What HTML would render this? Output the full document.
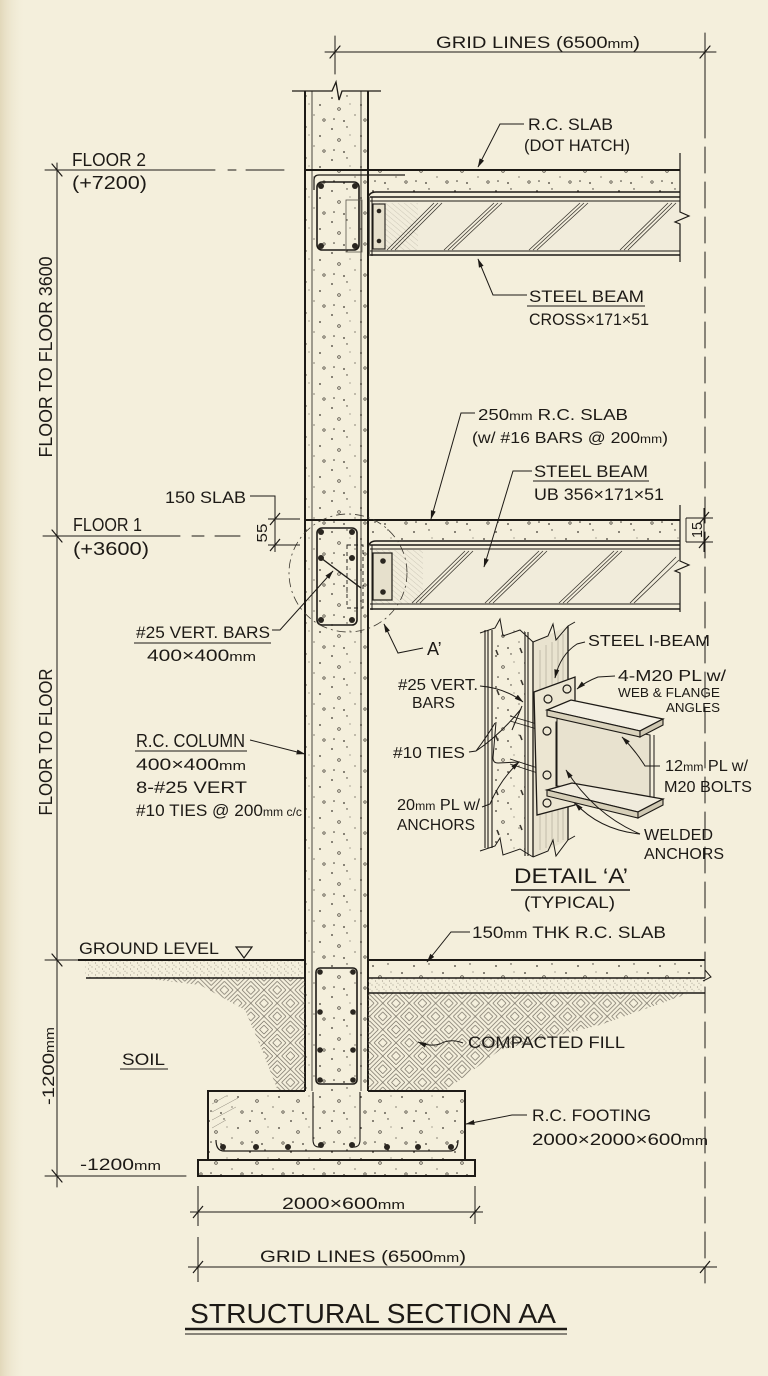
<!DOCTYPE html>
<html><head><meta charset="utf-8">
<style>
html,body{margin:0;padding:0;background:#f4efdc;}
svg{display:block;}
text{font-family:"Liberation Sans",sans-serif;fill:#1d1a16;}
</style></head><body>
<svg width="768" height="1376" viewBox="0 0 768 1376" xmlns="http://www.w3.org/2000/svg">
<defs>
<linearGradient id="bgL" x1="0" x2="1" y1="0" y2="0">
 <stop offset="0" stop-color="#e2d8ba"/>
 <stop offset="1" stop-color="#f4efdc" stop-opacity="0"/>
</linearGradient>
<pattern id="dots" width="41" height="31" patternUnits="userSpaceOnUse">
 <circle cx="4" cy="5" r="0.9" fill="#3a352d"/>
 <circle cx="19" cy="3" r="0.7" fill="#3a352d"/>
 <circle cx="11" cy="16" r="1.3" fill="none" stroke="#3a352d" stroke-width="0.7"/>
 <circle cx="33" cy="12" r="0.9" fill="#3a352d"/>
 <circle cx="27" cy="22" r="0.6" fill="#3a352d"/>
 <circle cx="37" cy="27" r="1.2" fill="none" stroke="#3a352d" stroke-width="0.7"/>
 <circle cx="6" cy="26" r="0.8" fill="#3a352d"/>
 <circle cx="22" cy="11" r="0.5" fill="#3a352d"/>
 <circle cx="16" cy="28" r="0.9" fill="#3a352d"/>
</pattern>
<pattern id="stip" width="7" height="6" patternUnits="userSpaceOnUse">
 <circle cx="1" cy="1" r="0.5" fill="#857f72"/>
 <circle cx="4.5" cy="3" r="0.55" fill="#857f72"/>
 <circle cx="6" cy="5.2" r="0.45" fill="#857f72"/>
</pattern>
<pattern id="herr" width="16" height="16" patternUnits="userSpaceOnUse" patternTransform="scale(1.65)">
 <g stroke="#6f695e" stroke-width="0.4" fill="none">
  <path d="M0,2.7L2.7,0M0,5.3L5.3,0M0,8L8,0M2.7,8L8,2.7M5.3,8L8,5.3"/>
  <path d="M8,5.3L10.7,8M8,2.7L13.3,8M8,0L16,8M10.7,0L16,5.3M13.3,0L16,2.7"/>
  <path d="M0,13.3L2.7,16M0,10.7L5.3,16M0,8L8,16M2.7,8L8,13.3M5.3,8L8,10.7"/>
  <path d="M8,10.7L10.7,8M8,13.3L13.3,8M8,16L16,8M10.7,16L16,10.7M13.3,16L16,13.3"/>
 </g>
</pattern>
<pattern id="fh" width="4" height="4" patternUnits="userSpaceOnUse" patternTransform="rotate(-50)">
 <line x1="0" y1="0" x2="0" y2="4" stroke="#8d877a" stroke-width="0.6"/>
</pattern>
<marker id="arr" markerWidth="9" markerHeight="6" refX="8.5" refY="3" orient="auto" markerUnits="userSpaceOnUse">
 <path d="M0,0.5 L9,3 L0,5.5 Z" fill="#1d1a16"/>
</marker>
</defs>

<rect width="768" height="1376" fill="#f4efdc"/>
<rect width="26" height="1376" fill="url(#bgL)"/>

<g stroke="#1d1a16" fill="none" stroke-linecap="round">
<line x1="325" y1="52" x2="716" y2="52" stroke-width="1"/>
<line x1="335" y1="36" x2="335" y2="74" stroke-width="1"/>
<line x1="705" y1="33" x2="705" y2="112" stroke-width="1"/>
<line x1="705" y1="112" x2="705" y2="1283" stroke-width="1" stroke-dasharray="26 9"/>
<path d="M330,58 L340,46 M700,58 L710,46" stroke-width="1.2"/>

<line x1="57" y1="163" x2="57" y2="1187" stroke-width="1"/>
<path d="M52,164 L62,176 M52,530 L62,542 M52,954 L62,966 M52,1170 L62,1182" stroke-width="1.2"/>
<path d="M45,170 L215,170 M228,170 L236,170 M246,170 L284,170" stroke-width="1"/>
<path d="M43,536 L180,536 M192,536 L204,536 M215,536 L240,536" stroke-width="1"/>
<path d="M45,960 L78,960" stroke-width="1"/>
<path d="M45,1176 L186,1176" stroke-width="1"/>
</g>

<!-- COLUMN -->
<rect x="306" y="92" width="61" height="999" fill="url(#dots)"/>
<g stroke="#1d1a16" fill="none">
<path d="M292,91 L332,91 L336,82 L339,100 L342,91 L381,91" stroke-width="1.3"/>
<line x1="305" y1="91" x2="305" y2="1091" stroke-width="2"/>
<line x1="368" y1="91" x2="368" y2="1091" stroke-width="2"/>
<line x1="312" y1="91" x2="312" y2="1091" stroke-width="0.8"/>
<line x1="361" y1="91" x2="361" y2="1091" stroke-width="0.8"/>
</g>

<!-- FLOOR 2 -->
<rect x="368" y="171" width="312" height="21" fill="url(#dots)"/>
<rect x="373" y="202" width="307" height="49" fill="#f1ecdb"/>
<rect x="373" y="203" width="45" height="47" fill="url(#fh)" opacity="0.6"/>
<g stroke="#1d1a16" fill="none">
<line x1="305" y1="170" x2="680" y2="170" stroke-width="2"/>
<path d="M368,200 Q368,192 376,192 L680,192" stroke-width="1.4"/>
<path d="M314,190 L314,180 Q314,175 319,175 L405,175" stroke-width="1.2"/>
<rect x="317" y="182" width="42" height="68" rx="5" stroke-width="1.6"/>
<rect x="346" y="200" width="16" height="52" stroke-width="0.8" stroke="#5a554c"/>
<line x1="370" y1="197" x2="680" y2="197" stroke-width="1.4"/>
<line x1="370" y1="201" x2="680" y2="201" stroke-width="1"/>
<line x1="370" y1="251" x2="680" y2="251" stroke-width="1"/>
<line x1="370" y1="255" x2="680" y2="255" stroke-width="1.4"/>
<line x1="369" y1="197" x2="369" y2="256" stroke-width="1.2"/>
<line x1="372" y1="197" x2="372" y2="256" stroke-width="1"/>
<rect x="373" y="204" width="12" height="45" stroke-width="1.1" fill="#e6e0cc"/>
<path d="M680,153 L680,212 L689,216 L675,222 L680,224 L680,262" stroke-width="1.2"/>
<g stroke-width="0.8" stroke="#3b372f">
 <path d="M387,250 L434,203 M391,250 L438,203 M395,250 L442,203"/>
 <path d="M444,250 L494,203 M448,250 L498,203 M452,250 L502,203"/>
 <path d="M529,250 L580,203 M533,250 L584,203 M537,250 L588,203"/>
 <path d="M620,250 L668,203 M624,250 L672,203 M628,250 L676,203"/>
</g>
</g>
<g fill="#2a2620">
<circle cx="321" cy="186" r="3"/><circle cx="355" cy="186" r="3"/>
<circle cx="321" cy="246" r="3"/><circle cx="355" cy="246" r="3"/>
<circle cx="379" cy="211" r="2.3"/><circle cx="379" cy="241" r="2.3"/>
</g>

<!-- FLOOR 1 -->
<rect x="368" y="521" width="312" height="20" fill="url(#dots)"/>
<rect x="373" y="550" width="307" height="54" fill="#f1ecdb"/>
<rect x="373" y="550" width="50" height="54" fill="url(#fh)" opacity="0.6"/>
<g stroke="#1d1a16" fill="none">
<line x1="305" y1="520" x2="680" y2="520" stroke-width="2"/>
<path d="M368,550 Q368,541 376,541 L680,541" stroke-width="1.4"/>
<line x1="370" y1="545" x2="680" y2="545" stroke-width="1.4"/>
<line x1="370" y1="549" x2="680" y2="549" stroke-width="1"/>
<line x1="370" y1="604" x2="680" y2="604" stroke-width="1"/>
<line x1="370" y1="609" x2="680" y2="609" stroke-width="1.4"/>
<line x1="368" y1="545" x2="368" y2="610" stroke-width="1.2"/>
<line x1="372" y1="545" x2="372" y2="610" stroke-width="1"/>
<rect x="373" y="553" width="19" height="47" stroke-width="1.2" fill="#e6e0cc"/>
<rect x="317" y="528" width="40" height="97" rx="5" stroke-width="1.6"/>
<line x1="321" y1="558" x2="361" y2="588" stroke-width="1.4"/>
<rect x="347" y="545" width="16" height="63" stroke-width="0.9" stroke-dasharray="4 3"/>
<path d="M680,505 L680,561 L689,565 L675,571 L680,573 L680,612" stroke-width="1.2"/>
<circle cx="348" cy="573" r="59" stroke-width="0.8" stroke-dasharray="9 4 2 4" stroke="#3b372f"/>
<g stroke-width="0.8" stroke="#3b372f">
 <path d="M412,603 L465,551 M416,603 L469,551 M420,603 L473,551"/>
 <path d="M485,603 L539,551 M489,603 L543,551 M493,603 L547,551"/>
 <path d="M559,603 L614,551 M563,603 L618,551 M567,603 L622,551"/>
 <path d="M630,603 L676,557 M634,603 L679,560"/>
</g>
<path d="M250,496 L275,496 L275,519" stroke-width="1"/>
<line x1="275" y1="508" x2="275" y2="552" stroke-width="1"/>
<path d="M268,519 L300,519 M268,545 L300,545" stroke-width="0.9"/>
<path d="M270,525 L280,513 M270,551 L280,539" stroke-width="1.2"/>
<line x1="704" y1="508" x2="704" y2="552" stroke-width="1"/>
<path d="M686,518 L713,518 M686,542 L713,542" stroke-width="0.9"/>
<line x1="686" y1="518" x2="686" y2="542" stroke-width="0.9"/>
<path d="M699,524 L709,512 M699,548 L709,536" stroke-width="1.2"/>
</g>
<g fill="#2a2620">
<circle cx="321" cy="532" r="3"/><circle cx="352" cy="532" r="3"/>
<circle cx="321" cy="558" r="3"/><circle cx="352" cy="558" r="3"/>
<circle cx="321" cy="620" r="3"/><circle cx="352" cy="620" r="3"/>
<circle cx="383" cy="561" r="2.8"/><circle cx="383" cy="592" r="2.8"/>
</g>

<!-- GROUND -->
<polygon points="142,978 200,985 245,1010 262,1050 278,1091 305,1091 305,978" fill="url(#herr)"/>
<polygon points="368,993 690,993 600,1025 500,1050 445,1091 368,1091" fill="url(#herr)"/>
<rect x="85" y="961" width="220" height="17" fill="url(#stip)"/>
<rect x="368" y="961" width="337" height="17" fill="url(#dots)"/>
<rect x="368" y="978" width="337" height="15" fill="url(#stip)"/>
<rect x="209" y="1092" width="255" height="67" fill="url(#dots)"/>
<rect x="199" y="1161" width="275" height="14" fill="url(#dots)"/>
<g stroke="#1d1a16" fill="none">
<line x1="78" y1="960" x2="305" y2="960" stroke-width="2"/>
<line x1="368" y1="960" x2="705" y2="960" stroke-width="2"/>
<line x1="86" y1="978" x2="305" y2="978" stroke-width="1.4"/>
<line x1="368" y1="978" x2="705" y2="978" stroke-width="1.4"/>
<line x1="368" y1="993" x2="705" y2="993" stroke-width="1.4"/>
<path d="M705,970 L711,977 L703,981" stroke-width="1"/>
<path d="M236,947 L252,947 L244,958 Z" stroke-width="1.2"/>
<rect x="316" y="968" width="41" height="116" rx="4" stroke-width="1.6"/>
<path d="M305,1091 L208,1091 L208,1160 L465,1160 L465,1091 L368,1091" stroke-width="2"/>
<rect x="198" y="1160" width="277" height="16" stroke-width="2"/>
<path d="M313,1092 L313,1140 Q313,1148 321,1147" stroke-width="1.1"/>
<path d="M360,1092 L360,1140 Q360,1148 352,1147" stroke-width="1.1"/>
<path d="M216,1140 Q216,1151 224,1151 L450,1151 Q458,1151 458,1140" stroke-width="1.2"/>
<path d="M212,1104 L226,1096 M212,1112 L238,1098 M212,1120 L236,1107 M212,1128 L226,1120" stroke-width="0.5" stroke="#8d877a"/>
</g>
<g fill="#2a2620">
<circle cx="320" cy="972" r="2.8"/><circle cx="353" cy="972" r="2.8"/>
<circle cx="320" cy="1012" r="2.8"/><circle cx="353" cy="1012" r="2.8"/>
<circle cx="320" cy="1050" r="2.8"/><circle cx="353" cy="1050" r="2.8"/>
<circle cx="320" cy="1080" r="2.8"/><circle cx="353" cy="1080" r="2.8"/>
<circle cx="223" cy="1147" r="3"/><circle cx="256" cy="1147" r="3"/>
<circle cx="288" cy="1147" r="3"/><circle cx="321" cy="1145" r="3"/>
<circle cx="352" cy="1145" r="3"/><circle cx="387" cy="1147" r="3"/>
<circle cx="418" cy="1147" r="3"/><circle cx="451" cy="1147" r="3"/>
</g>

<!-- BOTTOM DIMENSIONS -->
<g stroke="#1d1a16" fill="none">
<path d="M198,1186 L198,1226 M198,1237 L198,1282 M475,1186 L475,1224" stroke-width="1"/>
<line x1="190" y1="1212" x2="483" y2="1212" stroke-width="1"/>
<line x1="188" y1="1267" x2="717" y2="1267" stroke-width="1"/>
<path d="M193,1218 L203,1206 M470,1218 L480,1206 M193,1273 L203,1261 M700,1273 L710,1261" stroke-width="1.2"/>
<line x1="185" y1="1329" x2="567" y2="1329" stroke-width="2.6"/>
<line x1="185" y1="1334" x2="567" y2="1334" stroke-width="1"/>
</g>

<!-- DETAIL A -->
<rect x="492" y="630" width="33" height="220" fill="url(#dots)"/>
<polygon points="533,642 568,626 568,840 533,857" fill="#e9e3cf"/>
<g stroke="#9a9486" stroke-width="0.5">
<path d="M540,650 L540,850 M546,645 L546,848 M552,642 L552,845 M558,638 L558,842 M563,634 L563,840"/>
</g>
<g stroke="#1d1a16" fill="none">
<path d="M485,630 L485,848 M488,630 L488,848 M492,630 L492,848" stroke-width="1.1"/>
<path d="M525,632 L525,856 M528,632 L528,856" stroke-width="1.1"/>
<path d="M533,642 L533,857" stroke-width="1.3"/>
<path d="M568,626 L568,840" stroke-width="1.3"/>
<path d="M480,633 L495,628 L500,619 L503,636 L520,630 L533,642 M533,642 L548,636 L553,624 L556,640 L568,626 L575,622" stroke-width="1"/>
<path d="M480,851 L495,846 L500,838 L503,855 L520,849 L533,857 M533,857 L548,851 L553,840 L556,856 L568,840 L575,836" stroke-width="1"/>
<g stroke-width="1.6" stroke="#3b372f">
<path d="M496,650 L498,655 M497,690 L499,695 M496,736 L498,741 M496,790 L498,795 M497,830 L499,835"/>
<path d="M520,648 L522,653 M521,680 L523,685 M520,735 L522,740 M521,790 L523,795 M520,825 L522,830"/>
</g>
<path d="M522,706 L512,730 M496,722 L493,758 Q493,763 498,763 L520,762" stroke-width="1"/>
<path d="M510,716 L547,727 M510,721 L547,732 M510,759 L547,771 M510,764 L547,776" stroke-width="0.9"/>
<polygon points="534,692 575,677 575,805 537,815" fill="#ece6d2" stroke-width="1.3"/>
<polygon points="556,722 572,718 572,780 556,786" fill="#e4ddc8" stroke-width="1"/>
<line x1="558" y1="724" x2="558" y2="784" stroke-width="1" stroke-dasharray="1.5 1.5"/>
<polygon points="557,718 650,735 650,797 557,786" fill="#e8e2cf" stroke-width="1"/>
<line x1="654" y1="735" x2="654" y2="797" stroke-width="1"/>
<polygon points="547,710 571,700 663,719 640,731" fill="#f3efe2" stroke-width="1.3"/>
<polygon points="547,710 640,731 640,737 547,716" fill="#d9d2bc" stroke-width="1.1"/>
<polygon points="640,731 663,719 663,725 640,737" fill="#cfc8b2" stroke-width="1.1"/>
<polygon points="547,790 572,783 663,799 638,812" fill="#f0ebdc" stroke-width="1.3"/>
<polygon points="547,790 638,812 638,818 547,796" fill="#d6cfb8" stroke-width="1.1"/>
<polygon points="638,812 663,799 663,805 638,818" fill="#cfc8b2" stroke-width="1.1"/>
<circle cx="548" cy="699" r="4" stroke-width="1.2"/>
<circle cx="567" cy="689" r="4" stroke-width="1.2"/>
<circle cx="547" cy="731" r="4" stroke-width="1.2"/>
<circle cx="547" cy="775" r="4" stroke-width="1.2"/>
<circle cx="547" cy="803" r="4" stroke-width="1.2"/>
<line x1="511" y1="890" x2="630" y2="890" stroke-width="1.5"/>
<path d="M585,642 L577,644 Q560,655 555,678" stroke-width="1" marker-end="url(#arr)"/>
<path d="M615,676 L598,677 Q585,682 577,689" stroke-width="1" marker-end="url(#arr)"/>
<path d="M660,766 L645,766 Q635,750 622,737" stroke-width="1" marker-end="url(#arr)"/>
<path d="M640,834 Q600,830 575,803" stroke-width="1" marker-end="url(#arr)"/>
<path d="M640,834 Q595,815 566,770" stroke-width="1" marker-end="url(#arr)"/>
<path d="M480,686 Q505,688 523,702" stroke-width="1" marker-end="url(#arr)"/>
<path d="M469,752 L476,751 Q488,735 495,723 M476,751 Q500,735 521,709" stroke-width="1"/>
<path d="M482,807 L490,804 Q500,780 519,762" stroke-width="1" marker-end="url(#arr)"/>
</g>

<!-- MAIN LEADERS -->
<g stroke="#1d1a16" fill="none" stroke-width="1">
<path d="M524,124 L500,124 L478,167" marker-end="url(#arr)"/>
<path d="M527,295 L493,295 L478,259" marker-end="url(#arr)"/>
<path d="M475,413 L461,413 L431,519" marker-end="url(#arr)"/>
<path d="M532,471 L513,471 L484,567" marker-end="url(#arr)"/>
<path d="M272,630 L280,630 L333,571" marker-end="url(#arr)"/>
<path d="M423,648 L398,653 L384,624" marker-end="url(#arr)"/>
<path d="M250,740 L305,754" marker-end="url(#arr)"/>
<path d="M470,932 L451,932 L427,962" marker-end="url(#arr)"/>
<path d="M463,1043 Q450,1038 440,1044 Q430,1047 418,1042" marker-end="url(#arr)"/>
<path d="M527,1115 L512,1115 L466,1124" marker-end="url(#arr)"/>
<line x1="527" y1="306" x2="645" y2="306"/>
<line x1="533" y1="481" x2="649" y2="481"/>
<line x1="134" y1="643" x2="271" y2="643"/>
<line x1="135" y1="751" x2="247" y2="751"/>
<line x1="120" y1="1069" x2="168" y2="1069"/>
</g>

<!-- TEXT -->
<g font-size="17">
<text x="436" y="48" textLength="204" lengthAdjust="spacingAndGlyphs">GRID LINES (6500<tspan font-size="13">mm</tspan>)</text>
<text x="528" y="130" textLength="85" lengthAdjust="spacingAndGlyphs">R.C. SLAB</text>
<text x="524" y="151" textLength="106" lengthAdjust="spacingAndGlyphs">(DOT HATCH)</text>
<text x="72" y="166" font-size="18" textLength="74" lengthAdjust="spacingAndGlyphs">FLOOR 2</text>
<text x="72" y="189" font-size="18" textLength="75" lengthAdjust="spacingAndGlyphs">(+7200)</text>
<text x="529" y="302" textLength="115" lengthAdjust="spacingAndGlyphs">STEEL BEAM</text>
<text x="529" y="325" textLength="120" lengthAdjust="spacingAndGlyphs">CROSS×171×51</text>
<text transform="translate(52,357) rotate(-90)" text-anchor="middle" font-size="18" textLength="201" lengthAdjust="spacingAndGlyphs">FLOOR TO FLOOR 3600</text>
<text x="478" y="420" font-size="16" textLength="150" lengthAdjust="spacingAndGlyphs">250<tspan font-size="12">mm</tspan> R.C. SLAB</text>
<text x="472" y="443" font-size="16" textLength="196" lengthAdjust="spacingAndGlyphs">(w/ #16 BARS @ 200<tspan font-size="12">mm</tspan>)</text>
<text x="534" y="477" textLength="114" lengthAdjust="spacingAndGlyphs">STEEL BEAM</text>
<text x="534" y="500" textLength="130" lengthAdjust="spacingAndGlyphs">UB 356×171×51</text>
<text x="165" y="503" textLength="81" lengthAdjust="spacingAndGlyphs">150 SLAB</text>
<text x="73" y="531" font-size="18" textLength="69" lengthAdjust="spacingAndGlyphs">FLOOR 1</text>
<text x="73" y="555" font-size="18" textLength="76" lengthAdjust="spacingAndGlyphs">(+3600)</text>
<text transform="translate(267,533) rotate(-90)" text-anchor="middle" font-size="15" textLength="19" lengthAdjust="spacingAndGlyphs">55</text>
<text transform="translate(702,530) rotate(-90)" text-anchor="middle" font-size="15" textLength="16" lengthAdjust="spacingAndGlyphs">15</text>
<text x="136" y="638" textLength="134" lengthAdjust="spacingAndGlyphs">#25 VERT. BARS</text>
<text x="147" y="661" textLength="109" lengthAdjust="spacingAndGlyphs">400×400<tspan font-size="13">mm</tspan></text>
<text x="427" y="655" font-size="18">A’</text>
<text transform="translate(52,742) rotate(-90)" text-anchor="middle" font-size="18" textLength="147" lengthAdjust="spacingAndGlyphs">FLOOR TO FLOOR</text>
<text x="136" y="747" font-size="18" textLength="109" lengthAdjust="spacingAndGlyphs">R.C. COLUMN</text>
<text x="136" y="770" textLength="110" lengthAdjust="spacingAndGlyphs">400×400<tspan font-size="13">mm</tspan></text>
<text x="136" y="793" textLength="111" lengthAdjust="spacingAndGlyphs">8-#25 VERT</text>
<text x="136" y="816" textLength="166" lengthAdjust="spacingAndGlyphs">#10 TIES @ 200<tspan font-size="12">mm c/c</tspan></text>

<text x="588" y="646" font-size="16" textLength="122" lengthAdjust="spacingAndGlyphs">STEEL I-BEAM</text>
<text x="618" y="681" font-size="16" textLength="108" lengthAdjust="spacingAndGlyphs">4-M20 PL w/</text>
<text x="618" y="697" font-size="13" textLength="102" lengthAdjust="spacingAndGlyphs">WEB &amp; FLANGE</text>
<text x="666" y="712" font-size="13" textLength="54" lengthAdjust="spacingAndGlyphs">ANGLES</text>
<text x="665" y="771" font-size="16" textLength="83" lengthAdjust="spacingAndGlyphs">12<tspan font-size="12">mm</tspan> PL w/</text>
<text x="664" y="792" font-size="16" textLength="88" lengthAdjust="spacingAndGlyphs">M20 BOLTS</text>
<text x="644" y="840" font-size="16" textLength="69" lengthAdjust="spacingAndGlyphs">WELDED</text>
<text x="644" y="859" font-size="16" textLength="80" lengthAdjust="spacingAndGlyphs">ANCHORS</text>
<text x="398" y="690" font-size="16" textLength="80" lengthAdjust="spacingAndGlyphs">#25 VERT.</text>
<text x="412" y="708" font-size="16" textLength="43" lengthAdjust="spacingAndGlyphs">BARS</text>
<text x="393" y="758" font-size="16" textLength="72" lengthAdjust="spacingAndGlyphs">#10 TIES</text>
<text x="397" y="810" font-size="16" textLength="83" lengthAdjust="spacingAndGlyphs">20<tspan font-size="12">mm</tspan> PL w/</text>
<text x="397" y="830" font-size="16" textLength="78" lengthAdjust="spacingAndGlyphs">ANCHORS</text>
<text x="514" y="883" font-size="21" textLength="114" lengthAdjust="spacingAndGlyphs">DETAIL ‘A’</text>
<text x="524" y="908" textLength="91" lengthAdjust="spacingAndGlyphs">(TYPICAL)</text>

<text x="79" y="954" textLength="140" lengthAdjust="spacingAndGlyphs">GROUND LEVEL</text>
<text x="472" y="938" textLength="194" lengthAdjust="spacingAndGlyphs">150<tspan font-size="13">mm</tspan> THK R.C. SLAB</text>
<text x="468" y="1048" textLength="157" lengthAdjust="spacingAndGlyphs">COMPACTED FILL</text>
<text x="122" y="1065" textLength="43" lengthAdjust="spacingAndGlyphs">SOIL</text>
<text transform="translate(54,1066) rotate(-90)" text-anchor="middle" textLength="78" lengthAdjust="spacingAndGlyphs">-1200<tspan font-size="13">mm</tspan></text>
<text x="532" y="1121" textLength="119" lengthAdjust="spacingAndGlyphs">R.C. FOOTING</text>
<text x="532" y="1145" textLength="176" lengthAdjust="spacingAndGlyphs">2000×2000×600<tspan font-size="13">mm</tspan></text>
<text x="80" y="1170" textLength="81" lengthAdjust="spacingAndGlyphs">-1200<tspan font-size="13">mm</tspan></text>
<text x="282" y="1209" textLength="123" lengthAdjust="spacingAndGlyphs">2000×600<tspan font-size="13">mm</tspan></text>
<text x="260" y="1262" textLength="206" lengthAdjust="spacingAndGlyphs">GRID LINES (6500<tspan font-size="13">mm</tspan>)</text>
<text x="190" y="1323" font-size="28" textLength="366" lengthAdjust="spacingAndGlyphs">STRUCTURAL SECTION AA</text>
</g>
</svg>
</body></html>
